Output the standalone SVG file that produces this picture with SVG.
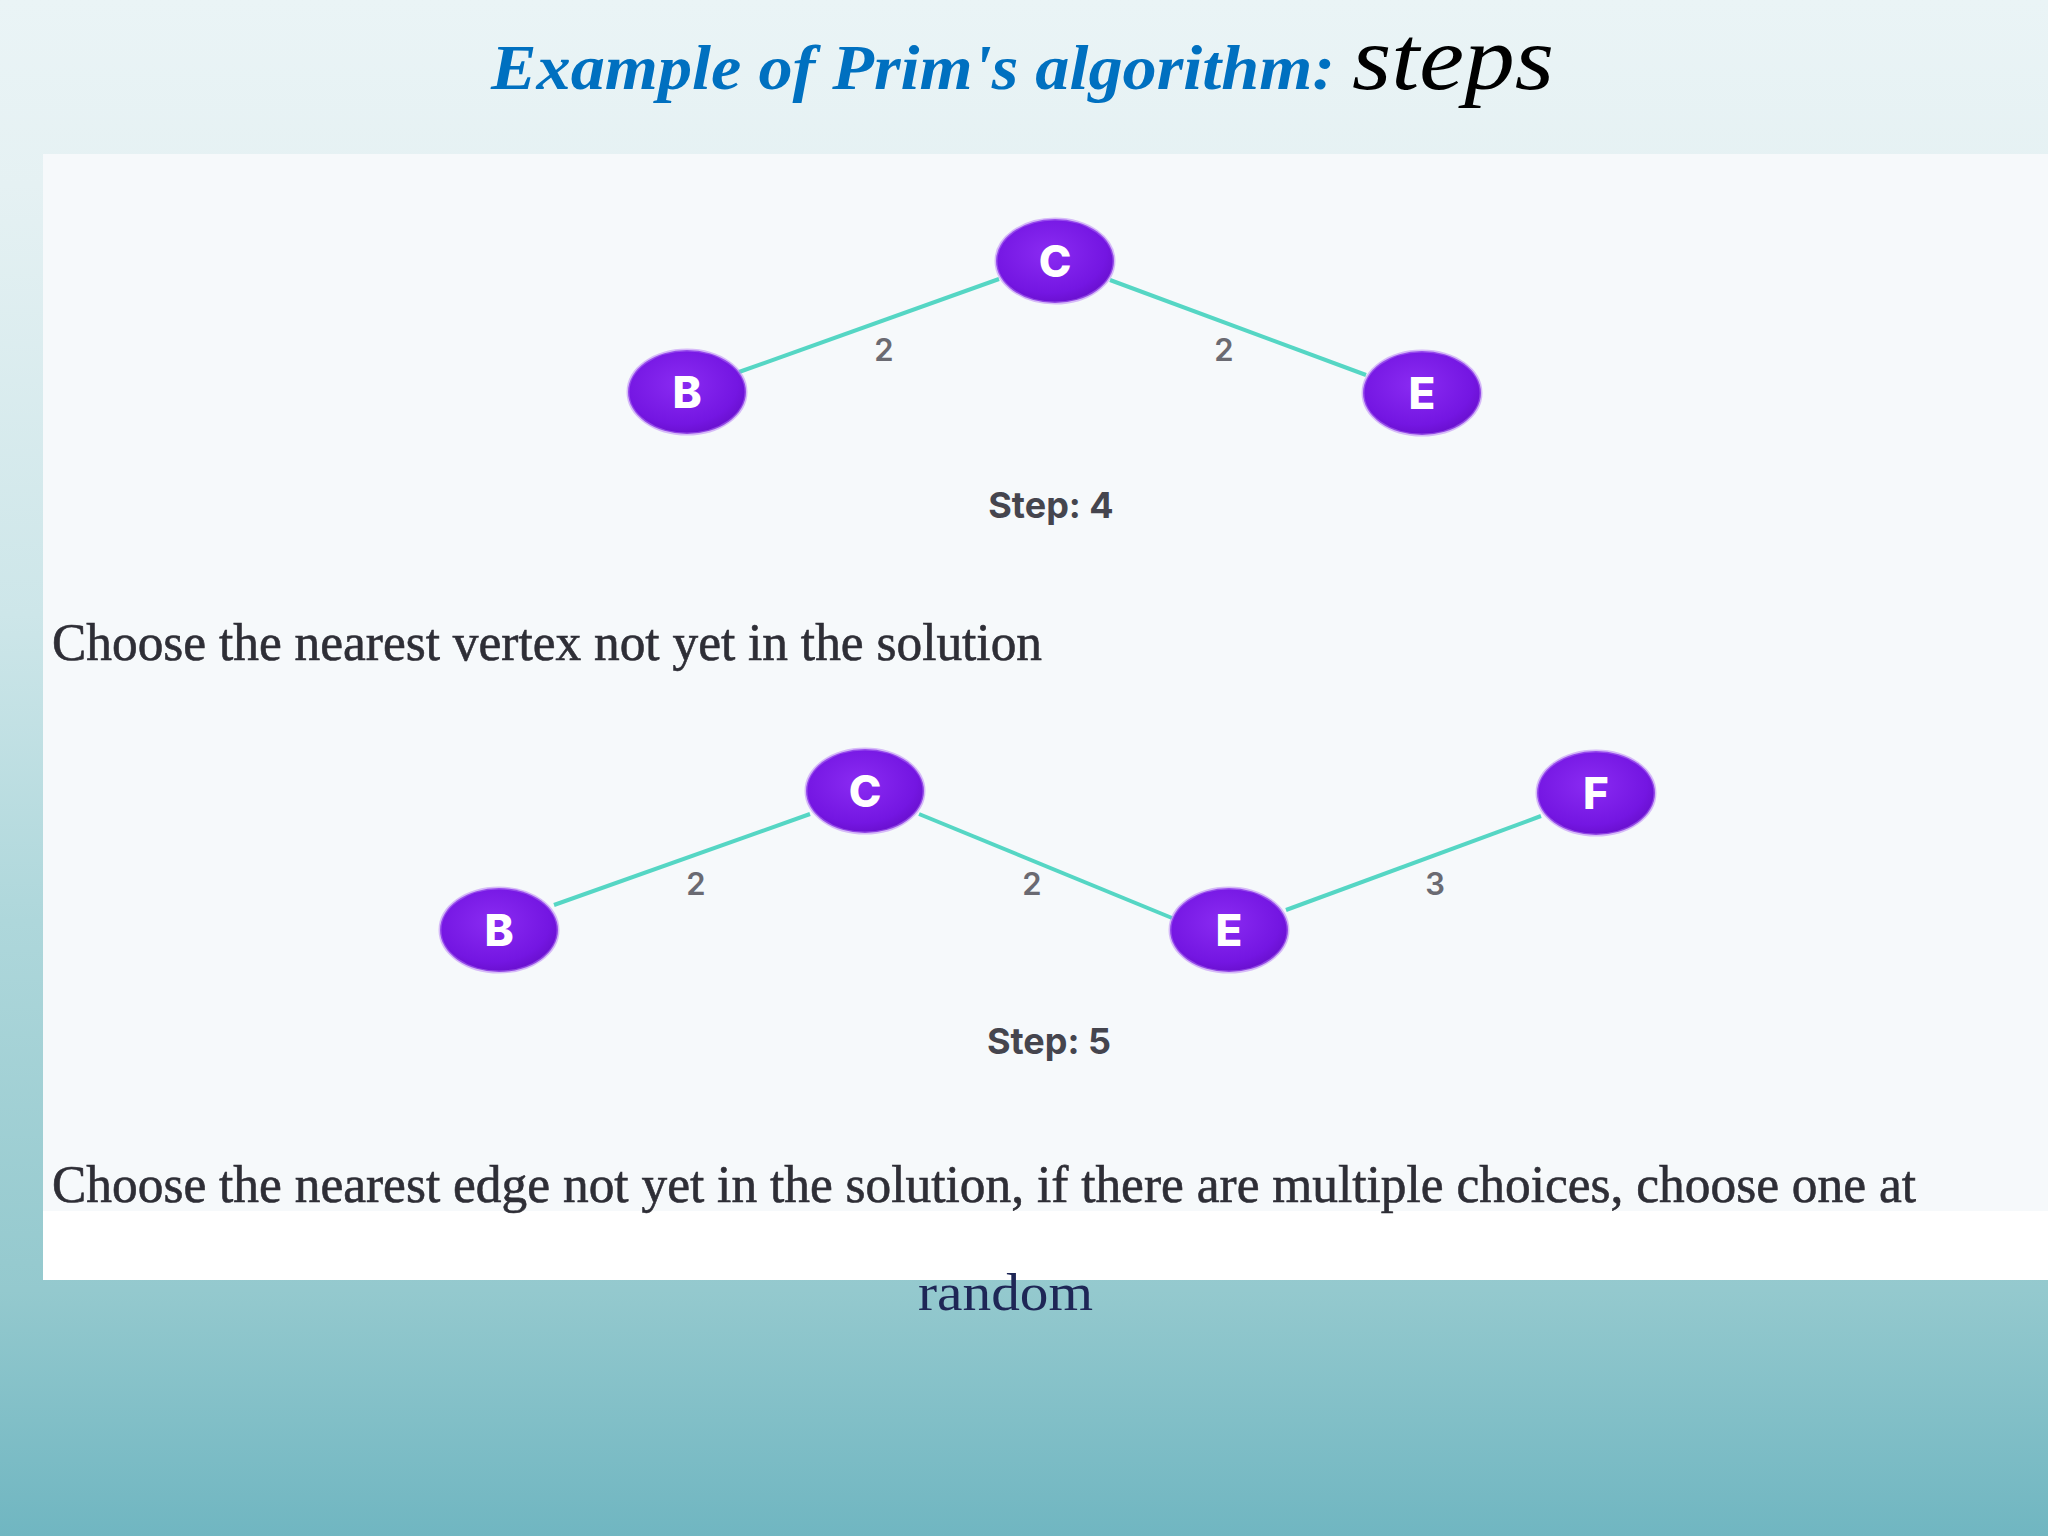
<svg xmlns="http://www.w3.org/2000/svg" width="2048" height="1536" viewBox="0 0 2048 1536">
<defs>
<linearGradient id="bg" x1="0" y1="0" x2="0" y2="1">
<stop offset="0" stop-color="#EAF4F6"/>
<stop offset="0.12" stop-color="#E5F1F3"/>
<stop offset="0.4" stop-color="#CDE6E9"/>
<stop offset="0.6" stop-color="#AED7DB"/>
<stop offset="0.84" stop-color="#94C9CE"/>
<stop offset="1" stop-color="#70B6C1"/>
</linearGradient>
<radialGradient id="node" cx="0.45" cy="0.4" r="0.6">
<stop offset="0" stop-color="#8A2BF2"/>
<stop offset="0.8" stop-color="#7416E2"/>
<stop offset="1" stop-color="#6A10D0"/>
</radialGradient>
</defs>
<style>
.node ellipse{fill:url(#node);stroke:#B57BF5;stroke-width:3;stroke-opacity:0.5}
.node text{fill:#FFFFFF;font-family:Inter,"DejaVu Sans",sans-serif;font-weight:800;font-size:44px;text-anchor:middle}
.edge{stroke:#55D6C4;stroke-width:4;fill:none}
.w{fill:#6A6A72;font-family:Inter,"DejaVu Sans",sans-serif;font-weight:600;font-size:31px;text-anchor:middle}
.step{fill:#45454E;font-family:Inter,"DejaVu Sans",sans-serif;font-weight:700;font-size:36px;text-anchor:middle}
.body{fill:#2E2E36;stroke:#2E2E36;stroke-width:0.6;font-family:"Liberation Serif","Times New Roman",serif;font-size:52px}
</style>
<rect x="0" y="0" width="2048" height="1536" fill="url(#bg)"/>
<rect x="43" y="154" width="2005" height="1126" fill="#F6F9FB"/>
<rect x="43" y="1211" width="2005" height="69" fill="#FFFFFF"/>
<g id="title">
<text x="491" y="89" font-family="'Liberation Serif','Times New Roman',serif" font-weight="bold" font-style="italic" font-size="64" fill="#0070C0" textLength="844" lengthAdjust="spacingAndGlyphs">Example of Prim's algorithm:</text>
<text x="1352" y="89" font-family="'Liberation Serif','Times New Roman',serif" font-style="italic" font-size="90" fill="#000000" textLength="202" lengthAdjust="spacingAndGlyphs">steps</text>
</g>
<g id="connectors">
<line class="edge" x1="739" y1="372" x2="999" y2="279"/>
<line class="edge" x1="1110" y1="280" x2="1366" y2="375"/>
<line class="edge" x1="554" y1="905" x2="810" y2="814"/>
<line class="edge" x1="919" y1="814" x2="1172" y2="918"/>
<line class="edge" x1="1286" y1="910" x2="1541" y2="816"/>
</g>
<g id="edge-labels">
<text class="w" x="884" y="361">2</text>
<text class="w" x="1224" y="361">2</text>
<text class="w" x="696" y="895">2</text>
<text class="w" x="1032" y="895">2</text>
<text class="w" x="1435" y="895">3</text>
</g>
<g id="s4-C" class="node"><ellipse cx="1055" cy="261" rx="59" ry="42"/><text x="1055" y="277">C</text></g>
<g id="s4-B" class="node"><ellipse cx="687" cy="392" rx="59" ry="42"/><text x="687" y="408">B</text></g>
<g id="s4-E" class="node"><ellipse cx="1422" cy="393" rx="59" ry="42"/><text x="1422" y="409">E</text></g>
<text id="step4" class="step" x="1051" y="518">Step: 4</text>
<text id="text1" class="body" x="52" y="660" textLength="990" lengthAdjust="spacingAndGlyphs">Choose the nearest vertex not yet in the solution</text>
<g id="s5-C" class="node"><ellipse cx="865" cy="791" rx="59" ry="42"/><text x="865" y="807">C</text></g>
<g id="s5-F" class="node"><ellipse cx="1596" cy="793" rx="59" ry="42"/><text x="1596" y="809">F</text></g>
<g id="s5-B" class="node"><ellipse cx="499" cy="930" rx="59" ry="42"/><text x="499" y="946">B</text></g>
<g id="s5-E" class="node"><ellipse cx="1229" cy="930" rx="59" ry="42"/><text x="1229" y="946">E</text></g>
<text id="step5" class="step" x="1049" y="1054">Step: 5</text>
<text id="text2" class="body" x="52" y="1202" textLength="1864" lengthAdjust="spacingAndGlyphs">Choose the nearest edge not yet in the solution, if there are multiple choices, choose one at</text>
<text id="random" x="918" y="1310" font-family="'Liberation Serif','Times New Roman',serif" font-size="52" fill="#1E2656" textLength="175" lengthAdjust="spacingAndGlyphs">random</text>
</svg>
